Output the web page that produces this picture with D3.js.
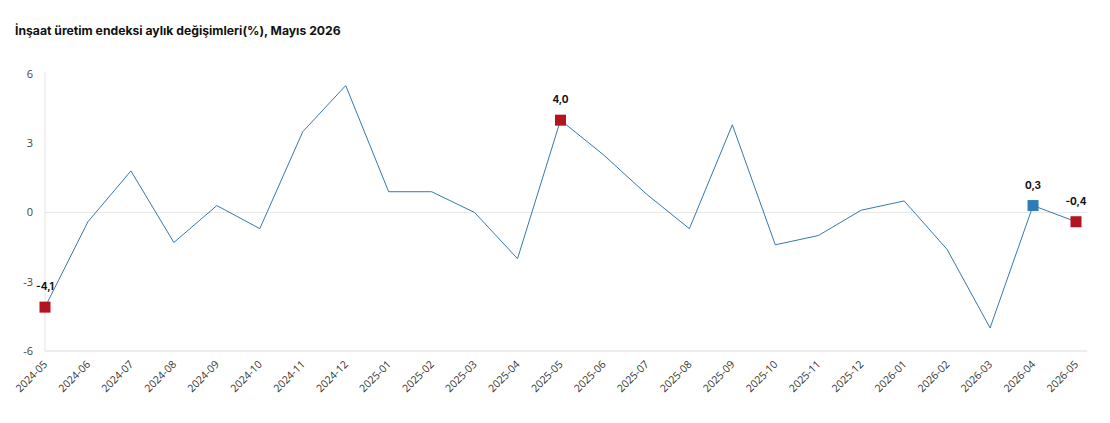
<!DOCTYPE html>
<html>
<head>
<meta charset="utf-8">
<script src="https://cdn.jsdelivr.net/npm/d3@7"></script>
<style>
  body { margin: 0; background: #fff; }
  svg { display: block; font-family: "Open Sans", "DejaVu Sans", sans-serif; }
</style>
</head>
<body>
<svg id="chart" width="1110" height="423"></svg>
<script>
// months and monthly change (%)
const months = ["2024-05","2024-06","2024-07","2024-08","2024-09","2024-10","2024-11","2024-12",
  "2025-01","2025-02","2025-03","2025-04","2025-05","2025-06","2025-07","2025-08","2025-09",
  "2025-10","2025-11","2025-12","2026-01","2026-02","2026-03","2026-04","2026-05"];
const values = [-4.1, -0.4, 1.8, -1.3, 0.3, -0.7, 3.5, 5.5, 0.9, 0.9, 0.0, -2.0, 4.0, 2.5, 0.8,
  -0.7, 3.8, -1.4, -1.0, 0.1, 0.5, -1.6, -5.0, 0.3, -0.4];
const yTicks = [-6, -3, 0, 3, 6];
// highlighted points: [month, colour]
const highlights = [["2024-05", "#b3141d"], ["2025-05", "#b3141d"], ["2026-04", "#2f7bb5"], ["2026-05", "#b3141d"]];

const svg = d3.select("#chart");
const mLeft = 45, mRight = 1076, mTop = 74, mBottom = 351;

const x = d3.scalePoint().domain(months).range([mLeft, mRight]);
const y = d3.scaleLinear().domain([-6, 6]).range([mBottom, mTop]);

svg.append("text")
  .attr("x", 15).attr("y", 35)
  .attr("font-family", "Inter, sans-serif")
  .attr("font-weight", 700).attr("font-size", 12.2)
  .attr("fill", "#111")
  .text("İnşaat üretim endeksi aylık değişimleri(%), Mayıs 2026");

// axis lines
svg.append("line").attr("x1", mLeft).attr("x2", mLeft).attr("y1", mTop - 2).attr("y2", mBottom)
  .attr("stroke", "#e3e3e3");
svg.append("line").attr("x1", mLeft).attr("x2", 1087).attr("y1", y(0)).attr("y2", y(0))
  .attr("stroke", "#e8e8e8");
svg.append("line").attr("x1", mLeft).attr("x2", 1087).attr("y1", mBottom).attr("y2", mBottom)
  .attr("stroke", "#dcdcdc");

// y tick labels
svg.append("g").selectAll("text").data(yTicks).join("text")
  .attr("x", 33).attr("y", d => y(d)).attr("dy", "0.35em")
  .attr("text-anchor", "end").attr("font-size", 11).attr("fill", "#444")
  .text(d => d);

// x tick labels
svg.append("g").selectAll("text").data(months).join("text")
  .attr("transform", d => `translate(${x(d) + 3},${mBottom + 14}) rotate(-45)`)
  .attr("text-anchor", "end").attr("font-size", 10.5).attr("fill", "#333")
  .text(d => d);

// line
const line = d3.line().x((d, i) => x(months[i])).y(d => y(d));
svg.append("path").datum(values)
  .attr("d", line).attr("fill", "none")
  .attr("stroke", "#3479b0").attr("stroke-width", 1);

// markers and labels
const fmt = v => v.toFixed(1).replace(".", ",");
const hl = svg.append("g");
highlights.forEach(([m, c]) => {
  const v = values[months.indexOf(m)];
  hl.append("rect")
    .attr("x", x(m) - 5.5).attr("y", y(v) - 5.5)
    .attr("width", 11).attr("height", 11)
    .attr("fill", c);
  hl.append("text")
    .attr("x", x(m)).attr("y", y(v) - 17)
    .attr("text-anchor", "middle").attr("font-size", 10).attr("font-weight", 700)
    .attr("font-family", "Inter, sans-serif")
    .attr("fill", "#111")
    .text(fmt(v));
});
</script>
</body>
</html>
